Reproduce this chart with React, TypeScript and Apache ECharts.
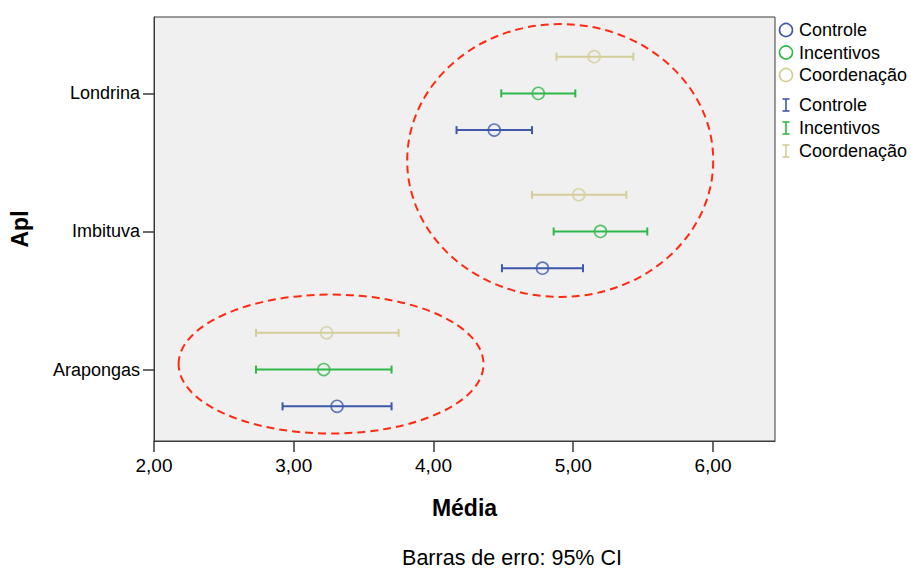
import React, { useEffect, useRef } from "react";
import * as echarts from "echarts";

// Category rows (y positions 1, 2, 3 from bottom to top)
const categories = ["Arapongas", "Imbituva", "Londrina"];
const groups = ["Controle", "Incentivos", "Coordenação"];
const groupColors = ["#3E58AC", "#2EB848", "#D3CE97"];
const groupOffsets = [-0.266, 0, 0.266];

// Means and 95% CI (order: Arapongas, Imbituva, Londrina)
const controleMean = [3.31, 4.78, 4.435];
const controleLow = [2.92, 4.49, 4.165];
const controleHigh = [3.7, 5.07, 4.705];
const incentivosMean = [3.215, 5.195, 4.75];
const incentivosLow = [2.73, 4.86, 4.485];
const incentivosHigh = [3.7, 5.53, 5.015];
const coordMean = [3.235, 5.04, 5.15];
const coordLow = [2.73, 4.705, 4.88];
const coordHigh = [3.75, 5.38, 5.43];

const xTicks = [2, 3, 4, 5, 6];

// Annotation ellipses in data units: [cx, cy, rx, ry]
const bigEllipse = [4.907, 2.514, 1.095, 0.988];
const smallEllipse = [3.267, 1.04, 1.091, 0.503];

const means = [controleMean, incentivosMean, coordMean];
const lows = [controleLow, incentivosLow, coordLow];
const highs = [controleHigh, incentivosHigh, coordHigh];

const FONT = "'Liberation Sans', Arial, sans-serif";

export default function App() {
  const ref = useRef<HTMLDivElement>(null);
  useEffect(() => {
    document.body.style.margin = "0";
    const chart = echarts.init(ref.current!, null, { renderer: "svg" });

    const scatterSeries = groups.map((g, gi) => ({
      type: "scatter",
      name: g,
      symbol: "circle",
      symbolSize: 12,
      z: 3,
      itemStyle: { color: "rgba(0,0,0,0)", borderColor: groupColors[gi], borderWidth: 1.6 },
      data: means[gi].map((m, ci) => [m, ci + 1 + groupOffsets[gi]]),
    }));

    const barSeries = groups.map((g, gi) => ({
      type: "custom",
      name: g + " CI",
      z: 2,
      data: means[gi].map((_, ci) => [lows[gi][ci], highs[gi][ci], ci + 1 + groupOffsets[gi]]),
      renderItem: (params: any, api: any) => {
        const p1 = api.coord([api.value(0), api.value(2)]);
        const p2 = api.coord([api.value(1), api.value(2)]);
        const c = 4;
        const style = { stroke: groupColors[gi], lineWidth: 2 };
        return {
          type: "group",
          children: [
            { type: "line", shape: { x1: p1[0], y1: p1[1], x2: p2[0], y2: p2[1] }, style },
            { type: "line", shape: { x1: p1[0], y1: p1[1] - c, x2: p1[0], y2: p1[1] + c }, style },
            { type: "line", shape: { x1: p2[0], y1: p2[1] - c, x2: p2[0], y2: p2[1] + c }, style },
          ],
        };
      },
    }));

    const option: any = {
      animation: false,
      backgroundColor: "#ffffff",
      grid: {
        left: 154,
        top: 17,
        right: 136,
        bottom: 129,
        containLabel: false,
        outerBoundsMode: "none",
        show: true,
        backgroundColor: "#F0F0F0",
        borderColor: "#3a3a3a",
        borderWidth: 1,
      },
      xAxis: {
        type: "value",
        min: 2,
        max: 6.444,
        interval: 1,
        name: "Média",
        nameLocation: "middle",
        nameGap: 55,
        nameTextStyle: { fontFamily: FONT, fontSize: 23, fontWeight: "bold", color: "#000" },
        axisLine: { show: true, lineStyle: { color: "#3a3a3a", width: 1 } },
        axisTick: { show: true, length: 11, lineStyle: { color: "#3a3a3a", width: 1.5 }, customValues: xTicks },
        axisLabel: {
          customValues: xTicks,
          margin: 15,
          fontFamily: FONT,
          fontSize: 19,
          color: "#000",
          formatter: (v: number) => v.toFixed(2).replace(".", ","),
        },
        splitLine: { show: false },
      },
      yAxis: {
        type: "value",
        min: 0.483,
        max: 3.553,
        name: "Apl",
        nameLocation: "middle",
        nameGap: 123,
        nameTextStyle: { fontFamily: FONT, fontSize: 23, fontWeight: "bold", color: "#000" },
        axisLine: { show: true, lineStyle: { color: "#3a3a3a", width: 1 } },
        axisTick: { show: true, length: 11, lineStyle: { color: "#3a3a3a", width: 1.5 }, customValues: [1, 2, 3] },
        axisLabel: {
          customValues: [1, 2, 3],
          margin: 14,
          fontFamily: FONT,
          fontSize: 18,
          color: "#000",
          formatter: (v: number) => categories[Math.round(v) - 1] ?? "",
        },
        splitLine: { show: false },
      },
      series: [...barSeries, ...scatterSeries],
    };
    chart.setOption(option);

    const ellipse = (e: number[]) => {
      const c = chart.convertToPixel({ gridIndex: 0 }, [e[0], e[1]]) as number[];
      const r = chart.convertToPixel({ gridIndex: 0 }, [e[0] + e[2], e[1] + e[3]]) as number[];
      return {
        type: "ellipse",
        shape: { cx: c[0], cy: c[1], rx: Math.abs(r[0] - c[0]), ry: Math.abs(c[1] - r[1]) },
        style: { fill: "none", stroke: "#FF2A10", lineWidth: 2, lineDash: [8, 5] },
        z: 10,
      };
    };

    const legendItems: any[] = [];
    const circleY = [30, 52.5, 75];
    const barY = [105, 128, 151];
    groups.forEach((g, gi) => {
      legendItems.push({
        type: "circle",
        shape: { cx: 786, cy: circleY[gi], r: 6.5 },
        style: { fill: "none", stroke: groupColors[gi], lineWidth: 1.6 },
      });
      legendItems.push({
        type: "text",
        x: 799,
        y: circleY[gi],
        style: { text: g, fontFamily: FONT, fontSize: 18, fill: "#000", textVerticalAlign: "middle" },
      });
      const s = { stroke: groupColors[gi], lineWidth: 1.6 };
      const y = barY[gi];
      legendItems.push({ type: "line", shape: { x1: 786, y1: y - 6, x2: 786, y2: y + 6 }, style: s });
      legendItems.push({ type: "line", shape: { x1: 782.5, y1: y - 6, x2: 789.5, y2: y - 6 }, style: s });
      legendItems.push({ type: "line", shape: { x1: 782.5, y1: y + 6, x2: 789.5, y2: y + 6 }, style: s });
      legendItems.push({
        type: "text",
        x: 799,
        y: y,
        style: { text: g, fontFamily: FONT, fontSize: 18, fill: "#000", textVerticalAlign: "middle" },
      });
    });

    chart.setOption({
      graphic: [
        ellipse(bigEllipse),
        ellipse(smallEllipse),
        ...legendItems,
        {
          type: "text",
          x: 512,
          y: 558,
          style: {
            text: "Barras de erro: 95% CI",
            fontFamily: FONT,
            fontSize: 21.5,
            fill: "#000",
            textAlign: "center",
            textVerticalAlign: "middle",
          },
        },
      ],
    });

    return () => chart.dispose();
  }, []);
  return <div ref={ref} style={{ width: 911, height: 570 }} />;
}
